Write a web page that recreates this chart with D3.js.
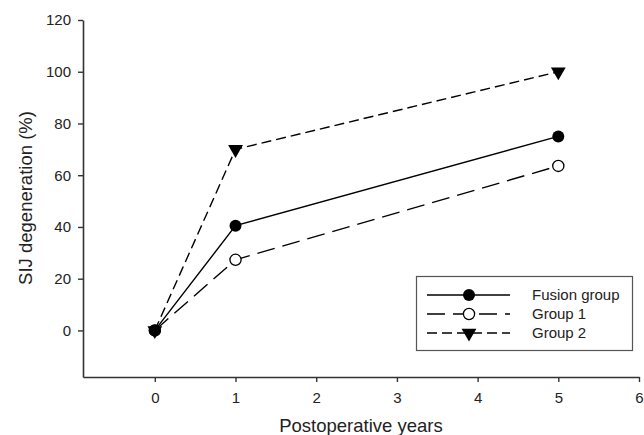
<!DOCTYPE html>
<html><head><meta charset="utf-8">
<script src="https://cdn.jsdelivr.net/npm/d3@7"></script>
<style>
html,body{margin:0;padding:0;background:#fff;}
svg{display:block;font-family:"Liberation Sans",Arial,sans-serif;}
</style></head>
<body><svg id="c" width="644" height="435"></svg>
<script>
const years = [0, 1, 5];
const seriesNames = ["Fusion group", "Group 1", "Group 2"];
const fusionGroup = [0, 40.5, 75];
const group1 = [0, 27.3, 63.6];
const group2 = [0, 70, 100];
const xTicks = [0, 1, 2, 3, 4, 5, 6];
const yTicks = [0, 20, 40, 60, 80, 100, 120];
const xTitle = "Postoperative years";
const yTitle = "SIJ degeneration (%)";

const svg = d3.select("#c");
const x = d3.scaleLinear().domain([-0.89, 6]).range([83, 639]);
const y = d3.scaleLinear().domain([-18, 120]).range([377, 20]);
const ink = "#222";
const fmt = d3.format("d");

// axes
const xa = svg.append("g").attr("transform", "translate(0,377)")
  .call(d3.axisBottom(x).tickValues(xTicks).tickFormat(fmt).tickSize(5).tickPadding(10).tickSizeOuter(0));
const ya = svg.append("g").attr("transform", "translate(83,0)")
  .call(d3.axisLeft(y).tickValues(yTicks).tickFormat(fmt).tickSize(5).tickPadding(7).tickSizeOuter(0));
[xa, ya].forEach(g => {
  g.select(".domain").attr("stroke", "#333").attr("stroke-width", 1.6);
  g.selectAll(".tick line").attr("stroke", "#333").attr("stroke-width", 1.4);
  g.selectAll(".tick text").attr("fill", ink).style("font-size", "15px")
   .style("font-family", "'Liberation Sans',Arial,sans-serif");
});

svg.append("text").attr("x", 361).attr("y", 432).attr("text-anchor", "middle")
  .attr("fill", ink).style("font-size", "18.5px").text(xTitle);
svg.append("text").attr("transform", "translate(32,198) rotate(-90)").attr("text-anchor", "middle")
  .attr("fill", ink).style("font-size", "18.5px").text(yTitle);

const series = [
  {name: seriesNames[0], vals: fusionGroup, dash: null, marker: "fillCircle"},
  {name: seriesNames[1], vals: group1, dash: "18,8", marker: "openCircle"},
  {name: seriesNames[2], vals: group2, dash: "10,5", marker: "triangle"}
];

const line = d3.line().x(d => x(d[0])).y(d => y(d[1]));
const tri = d3.symbol().type(d3.symbolTriangle).size(95);

function drawMarker(g, type, cx, cy) {
  if (type === "fillCircle") {
    g.append("circle").attr("cx", cx).attr("cy", cy).attr("r", 6).attr("fill", "#000");
  } else if (type === "openCircle") {
    g.append("circle").attr("cx", cx).attr("cy", cy).attr("r", 5.6)
      .attr("fill", "#fff").attr("stroke", "#000").attr("stroke-width", 1.3);
  } else {
    g.append("path").attr("d", tri).attr("transform", `translate(${cx},${cy}) rotate(180)`).attr("fill", "#000");
  }
}

// lines
series.forEach(s => {
  const pts = years.map((yr, i) => [yr, s.vals[i]]);
  svg.append("path").attr("d", line(pts)).attr("fill", "none")
    .attr("stroke", "#000").attr("stroke-width", 1.4)
    .attr("stroke-dasharray", s.dash);
});
// markers
series.slice().reverse().forEach(s => {
  const g = svg.append("g");
  years.forEach((yr, i) => drawMarker(g, s.marker, x(yr), y(s.vals[i])));
});

// legend
const lg = svg.append("g");
lg.append("rect").attr("x", 416.5).attr("y", 276.5).attr("width", 216).attr("height", 74)
  .attr("fill", "#fff").attr("stroke", "#555").attr("stroke-width", 1.2);
const rowsY = [295, 314, 333];
series.forEach((s, i) => {
  const cy = rowsY[i];
  lg.append("line").attr("x1", 427).attr("x2", 510).attr("y1", cy).attr("y2", cy)
    .attr("stroke", "#000").attr("stroke-width", 1.4).attr("stroke-dasharray", s.dash);
  drawMarker(lg, s.marker, 469, cy);
  lg.append("text").attr("x", 532).attr("y", cy + 5).attr("fill", ink)
    .style("font-size", "15px").text(s.name);
});
</script></body></html>
